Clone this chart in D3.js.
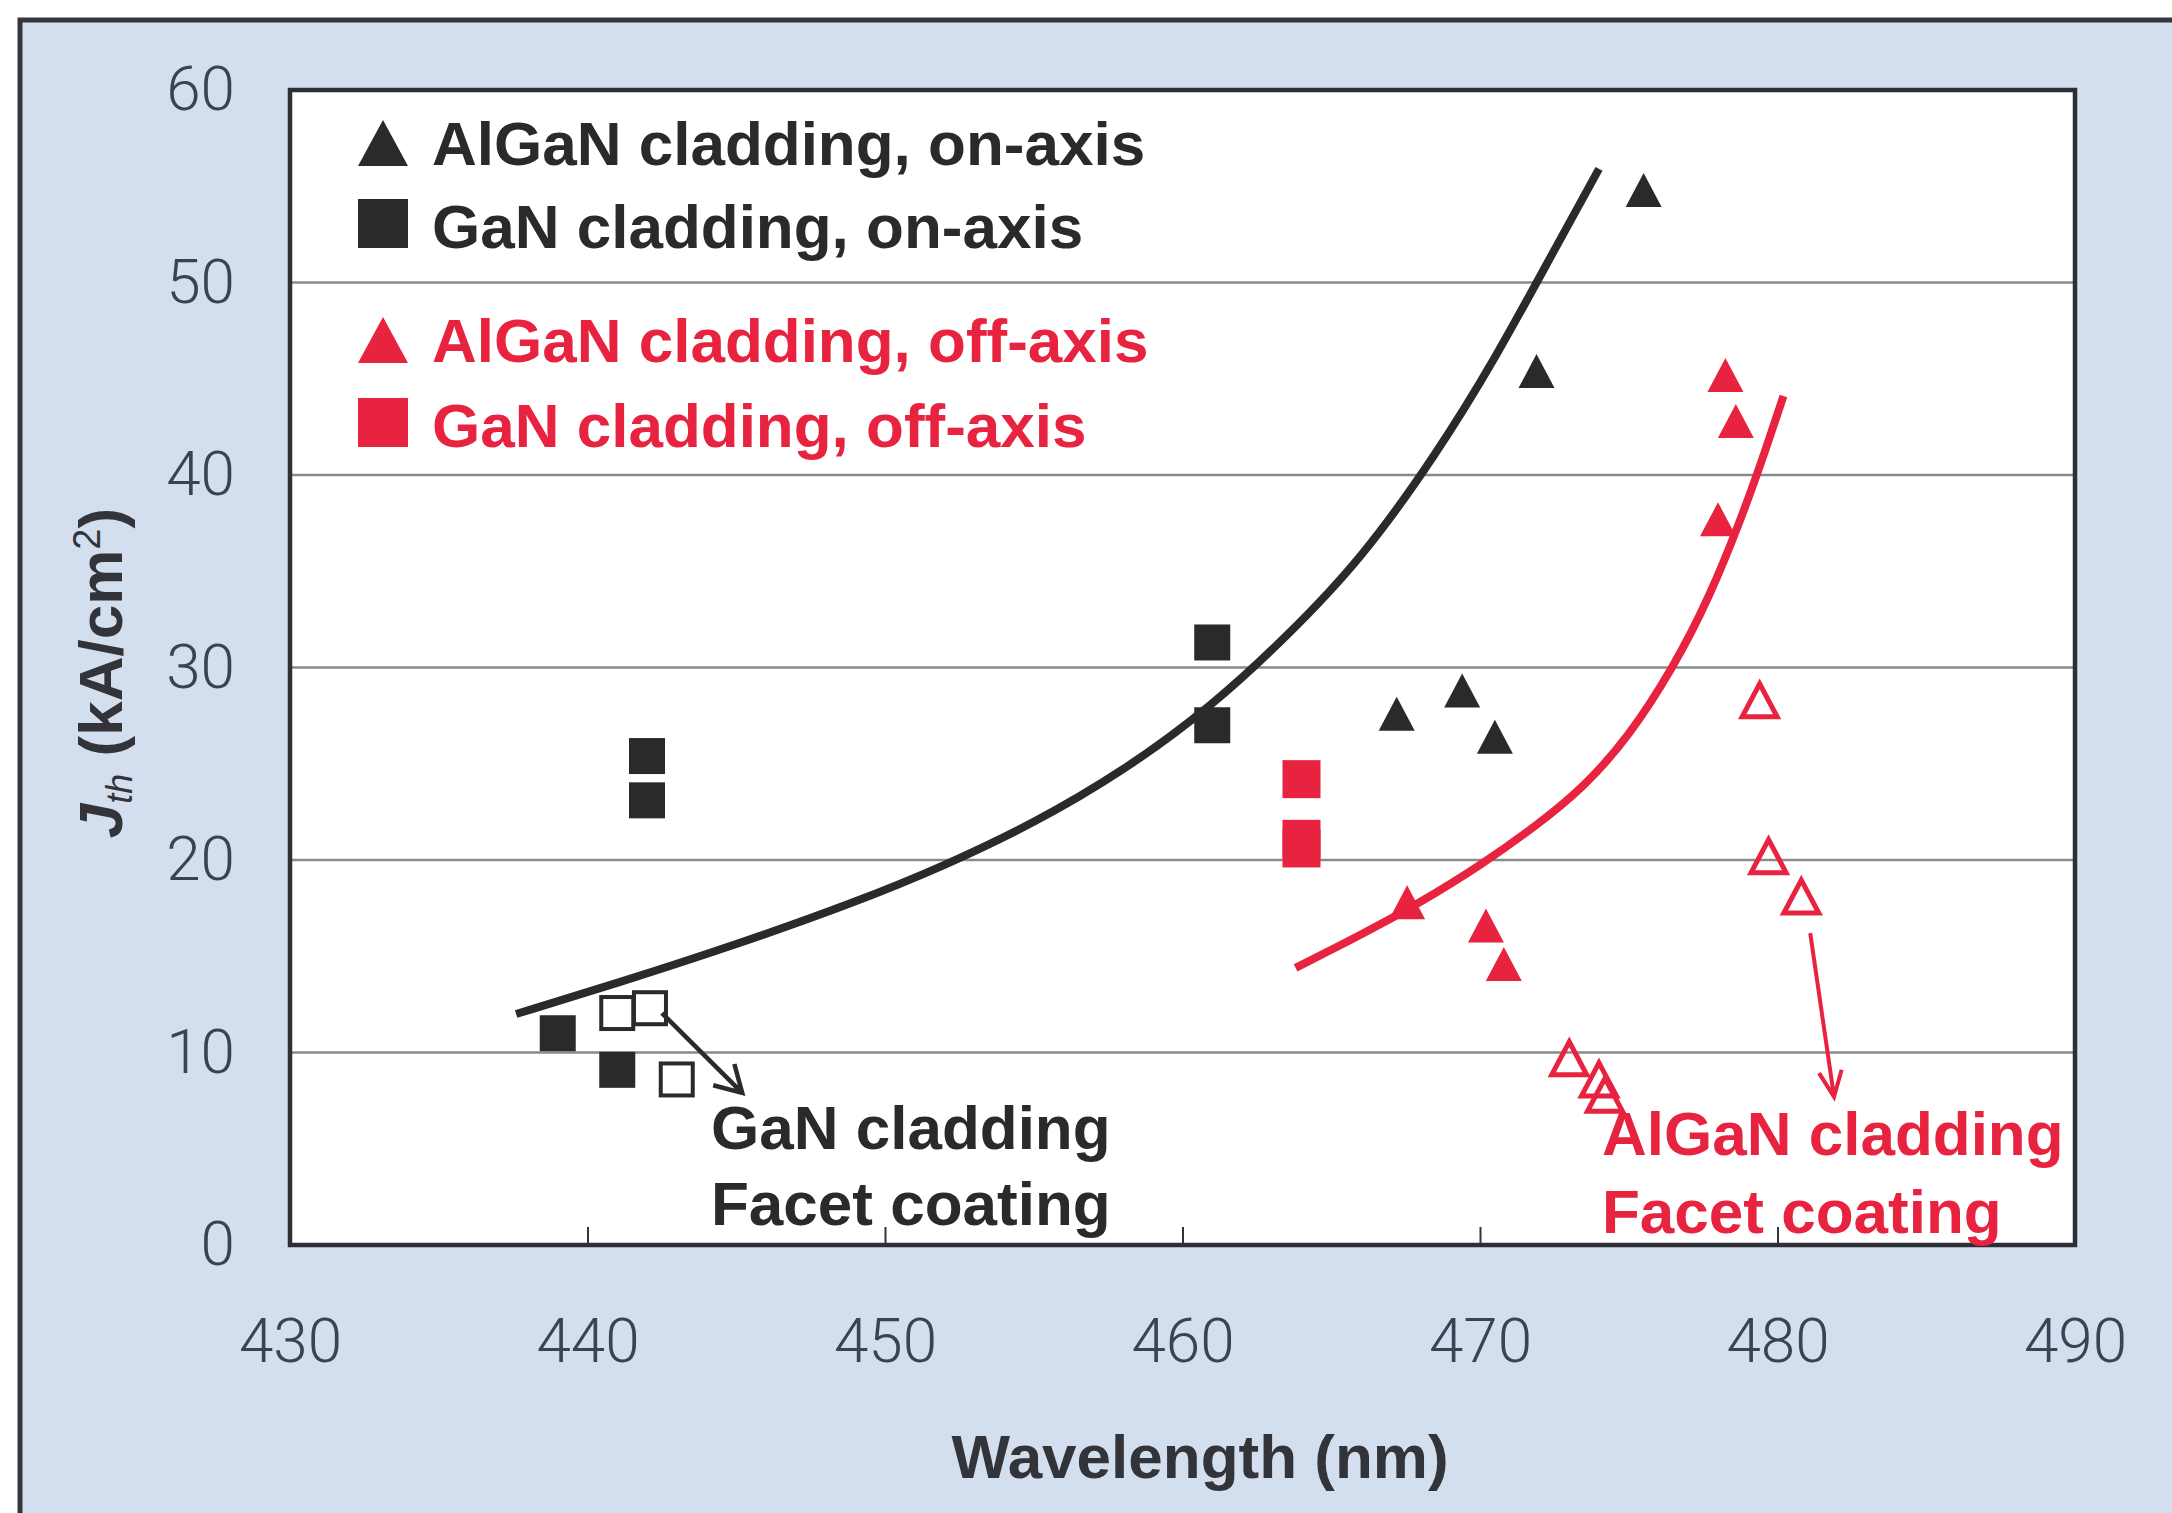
<!DOCTYPE html>
<html>
<head>
<meta charset="utf-8">
<script src="https://cdn.jsdelivr.net/npm/d3@7"></script>
<style>
  body { margin: 0; background: #fff; }
  svg { display: block; }
</style>
</head>
<body>
<svg id="chart"></svg>
<script>
// axis ticks
var xTicks = [430, 440, 450, 460, 470, 480, 490];
var yTicks = [0, 10, 20, 30, 40, 50, 60];
var yGrid = [10, 20, 30, 40, 50];

// points: [wavelength (nm), Jth (kA/cm2)]
var alganOnAxis = [[475.5, 54.8], [471.9, 45.4], [467.2, 27.6], [469.4, 28.8], [470.5, 26.4]];
var ganOnAxis = [[461.0, 31.3], [461.0, 27.0], [442.0, 25.4], [442.0, 23.1], [439.0, 11.0], [441.0, 9.1]];
var ganFacet = [[441.0, 12.05], [442.1, 12.3], [443.0, 8.6]];
var alganOffAxis = [[478.25, 45.2], [478.6, 42.8], [478.0, 37.7], [467.55, 17.8], [470.2, 16.6], [470.8, 14.6]];
var ganOffAxis = [[464.0, 24.2], [464.0, 21.1], [464.0, 20.6]];
var alganFacet = [[479.4, 28.3], [479.7, 20.2], [480.8, 18.1], [473.0, 9.7], [474.0, 8.6], [474.2, 7.8]];

// hand drawn trend curves
var fitOnAxis = [[437.6, 12.0], [441, 13.6], [445, 15.6], [449, 17.8], [452, 19.7], [455, 21.9], [458, 24.6],
                 [461, 28.0], [463.5, 31.6], [466, 35.6], [468.5, 41.0], [470.5, 46.0], [472.5, 51.7], [474.0, 55.9]];
var fitOffAxis = [[463.8, 14.4], [466, 16.1], [468, 17.8], [470, 19.7], [472, 21.9], [473.5, 23.8],
                  [475, 26.4], [476.5, 30.0], [477.7, 33.6], [478.8, 37.8], [479.6, 41.3], [480.2, 44.1]];

// annotation arrows
var arrowGaN = [[442.5, 12.05], [445.2, 7.9]];
var arrowAlGaN = [[481.1, 16.2], [481.9, 7.7]];

var legendLabels = ["AlGaN cladding, on-axis", "GaN cladding, on-axis", "AlGaN cladding, off-axis", "GaN cladding, off-axis"];
var legendShapes = ["tri", "sq", "tri", "sq"];
var noteGaN = ["GaN cladding", "Facet coating"];
var noteAlGaN = ["AlGaN cladding", "Facet coating"];

var BLACK = "#2a2a2c";
var RED = "#e8233f";
var legendColors = [BLACK, BLACK, RED, RED];

function drawChart() {
    var svgWidth = 2172, svgHeight = 1513;
    var margin = { top: 90, right: 97, bottom: 268, left: 290 };
    var width = svgWidth - margin.left - margin.right;
    var height = svgHeight - margin.top - margin.bottom;

    var svg = d3.select("#chart")
        .attr("width", svgWidth)
        .attr("height", svgHeight)
        .style("font-family", "'Liberation Sans', Arial, sans-serif");

    // light blue panel with dark frame
    svg.append("rect")
        .attr("x", 20).attr("y", 20)
        .attr("width", svgWidth + 20).attr("height", svgHeight + 20)
        .attr("fill", "#d3dfef")
        .attr("stroke", "#34363c")
        .attr("stroke-width", 5);

    var g = svg.append("g")
        .attr("transform", "translate(" + margin.left + "," + margin.top + ")");

    var x = d3.scaleLinear().domain([430, 490]).range([0, width]);
    var y = d3.scaleLinear().domain([0, 60]).range([height, 0]);

    g.append("rect")
        .attr("width", width).attr("height", height)
        .attr("fill", "#fff");

    g.selectAll(".grid")
        .data(yGrid)
        .join("line")
        .attr("class", "grid")
        .attr("x1", 0).attr("x2", width)
        .attr("y1", function(d) { return y(d); })
        .attr("y2", function(d) { return y(d); })
        .attr("stroke", "#8a8a8a")
        .attr("stroke-width", 2.5);

    var yAxis = g.append("g")
        .call(d3.axisLeft(y).tickValues(yTicks).tickSize(0).tickPadding(55));
    yAxis.select(".domain").remove();

    var xAxis = g.append("g")
        .attr("transform", "translate(0," + height + ")")
        .call(d3.axisBottom(x).tickValues(xTicks).tickSizeInner(-18).tickSizeOuter(0).tickPadding(73));
    xAxis.select(".domain").remove();
    xAxis.selectAll(".tick line").attr("stroke", "#333").attr("stroke-width", 2);

    g.selectAll(".tick text")
        .attr("font-family", "Roboto, 'Liberation Sans', sans-serif")
        .attr("font-weight", 300)
        .attr("font-size", 62)
        .attr("fill", "#3b4253");

    g.append("rect")
        .attr("width", width).attr("height", height)
        .attr("fill", "none")
        .attr("stroke", "#2e2f35")
        .attr("stroke-width", 4.5);

    // trend curves
    var line = d3.line()
        .x(function(d) { return x(d[0]); })
        .y(function(d) { return y(d[1]); })
        .curve(d3.curveBasis);

    g.append("path").datum(fitOnAxis)
        .attr("fill", "none").attr("stroke", BLACK).attr("stroke-width", 8)
        .attr("d", line);
    g.append("path").datum(fitOffAxis)
        .attr("fill", "none").attr("stroke", RED).attr("stroke-width", 8)
        .attr("d", line);

    function triPath(w, h) {
        return "M0," + (-h / 2) + "L" + (w / 2) + "," + (h / 2) + "L" + (-w / 2) + "," + (h / 2) + "Z";
    }
    function place(d) { return "translate(" + x(d[0]) + "," + y(d[1]) + ")"; }

    function triangles(data, color, open) {
        g.append("g").selectAll("path")
            .data(data)
            .join("path")
            .attr("transform", place)
            .attr("d", open ? triPath(35, 33) : triPath(36, 34))
            .attr("fill", open ? "none" : color)
            .attr("stroke", open ? color : "none")
            .attr("stroke-width", 5)
            .attr("stroke-linejoin", "miter");
    }
    function squares(data, color, open, s) {
        g.append("g").selectAll("rect")
            .data(data)
            .join("rect")
            .attr("transform", place)
            .attr("x", -s / 2).attr("y", -s / 2)
            .attr("width", s).attr("height", s)
            .attr("fill", open ? "#fff" : color)
            .attr("stroke", open ? color : "none")
            .attr("stroke-width", 4);
    }

    squares(ganOnAxis, BLACK, false, 36);
    squares(ganFacet, BLACK, true, 32);
    squares(ganOffAxis, RED, false, 38);
    triangles(alganOnAxis, BLACK, false);
    triangles(alganOffAxis, RED, false);
    triangles(alganFacet, RED, true);

    // arrows
    function arrow(pts, color, sw, len, ang) {
        var x0 = x(pts[0][0]), y0 = y(pts[0][1]);
        var x1 = x(pts[1][0]), y1 = y(pts[1][1]);
        var a = Math.atan2(y0 - y1, x0 - x1);
        var r = ang * Math.PI / 180;
        var p = d3.path();
        p.moveTo(x0, y0); p.lineTo(x1, y1);
        p.moveTo(x1 + len * Math.cos(a - r), y1 + len * Math.sin(a - r));
        p.lineTo(x1, y1);
        p.lineTo(x1 + len * Math.cos(a + r), y1 + len * Math.sin(a + r));
        g.append("path")
            .attr("d", p.toString())
            .attr("fill", "none")
            .attr("stroke", color)
            .attr("stroke-width", sw)
            .attr("stroke-linejoin", "miter");
    }
    arrow(arrowGaN, BLACK, 4.5, 30, 30);
    arrow(arrowAlGaN, RED, 4, 28, 24);

    // notes
    svg.append("text")
        .attr("x", 711).attr("y", 1149)
        .attr("font-size", 62).attr("font-weight", "bold").attr("fill", BLACK)
        .selectAll("tspan").data(noteGaN).join("tspan")
        .attr("x", 711)
        .attr("dy", function(d, i) { return i ? 76 : 0; })
        .text(function(d) { return d; });
    svg.append("text")
        .attr("x", 1602).attr("y", 1155)
        .attr("font-size", 62).attr("font-weight", "bold").attr("fill", RED)
        .selectAll("tspan").data(noteAlGaN).join("tspan")
        .attr("x", 1602)
        .attr("dy", function(d, i) { return i ? 78 : 0; })
        .text(function(d) { return d; });

    // legend
    var legendBase = [165, 248, 362, 447];
    var leg = svg.append("g").selectAll("g")
        .data(legendLabels)
        .join("g")
        .attr("transform", function(d, i) { return "translate(383," + legendBase[i] + ")"; });
    leg.append("path")
        .attr("d", function(d, i) {
            return legendShapes[i] === "tri" ? triPath(50, 46) : "M-25,-49h50v49h-50Z";
        })
        .attr("transform", function(d, i) { return legendShapes[i] === "tri" ? "translate(0,-22)" : null; })
        .attr("fill", function(d, i) { return legendColors[i]; });
    leg.append("text")
        .attr("x", 49)
        .attr("font-size", 62).attr("font-weight", "bold")
        .attr("fill", function(d, i) { return legendColors[i]; })
        .text(function(d) { return d; });

    // axis titles
    svg.append("text")
        .attr("x", 1200).attr("y", 1478)
        .attr("text-anchor", "middle")
        .attr("font-size", 62).attr("font-weight", "bold")
        .attr("fill", "#33343a")
        .text("Wavelength (nm)");

    var yt = svg.append("text")
        .attr("transform", "translate(122,673) rotate(-90)")
        .attr("text-anchor", "middle")
        .attr("font-size", 62).attr("font-weight", "bold")
        .attr("fill", "#33343a");
    yt.append("tspan").attr("font-style", "italic").text("J");
    yt.append("tspan").attr("font-style", "italic").attr("font-weight", "normal")
        .attr("font-size", 36).attr("dy", 10).text("th");
    yt.append("tspan").attr("dy", -10).text(" (kA/cm");
    yt.append("tspan").attr("font-size", 38).attr("font-weight", "normal").attr("dy", -22).text("2");
    yt.append("tspan").attr("dy", 22).text(")");
}

drawChart();
</script>
</body>
</html>
